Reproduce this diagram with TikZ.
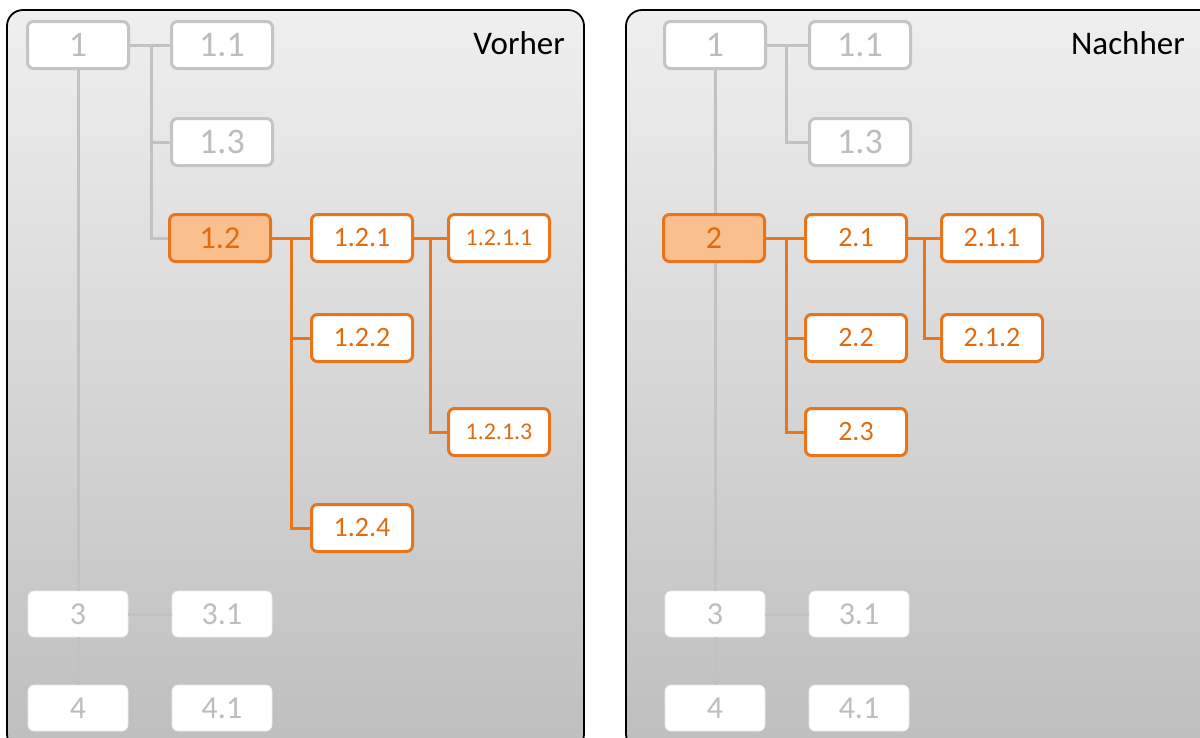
\documentclass[tikz,border=0pt]{standalone}
\usepackage{fontspec}
\setmainfont{Carlito}
\definecolor{ora}{HTML}{E8741C}
\definecolor{oratext}{HTML}{E26B10}
\definecolor{orafill}{HTML}{F9BF8D}
\definecolor{gbord}{HTML}{C4C4C4}
\definecolor{gtext}{HTML}{BDBDBD}
\definecolor{gline}{HTML}{C2C2C2}
\definecolor{bgtop}{HTML}{EFEFEF}
\definecolor{bgbot}{HTML}{BEBEBE}
\tikzset{
  panel/.style={rounded corners=16pt, line width=1.8pt, draw=black, top color=bgtop, bottom color=bgbot},
  boxbase/.style={rounded corners=6pt, minimum width=101pt, minimum height=47pt, inner sep=0pt, line width=3pt},
  gbox/.style={boxbase, draw=gbord, fill=white, text=gtext, font=\fontsize{36}{36}\selectfont},
  obox/.style={boxbase, draw=ora, fill=white, text=oratext, font=\fontsize{28}{28}\selectfont},
  ofbox/.style={boxbase, draw=ora, fill=orafill, text=oratext, font=\fontsize{32}{32}\selectfont},
  wbox/.style={rounded corners=6pt, minimum width=100pt, minimum height=46pt, inner sep=0pt, fill=white, draw=white!92!black, line width=0.6pt, text=gtext, font=\fontsize{32}{32}\selectfont},
  gl/.style={draw=gline, line width=3pt},
  ol/.style={draw=ora, line width=3pt},
  small/.style={font=\fontsize{24}{24}\selectfont},
  title/.style={anchor=east, font=\fontsize{33}{33}\selectfont, text=black, inner sep=0pt}
}
\begin{document}
\begin{tikzpicture}[x=1pt,y=-1pt]
\useasboundingbox (0,0) rectangle (1200,737);
\clip (0,0) rectangle (1200,737);
\path[panel] (7,10) rectangle (584,750);
\path[panel] (626,10) rectangle (1215,750);

% ---------- Left panel (Vorher) ----------
\node[title] (tv) at (565,43) {Vorher};
\node[gbox] (L1) at (78,45) {1};
\node[gbox] (L11) at (222,45) {1.1};
\node[gbox] (L13) at (222,142) {1.3};
\node[wbox] (L3) at (78,614) {3};
\node[wbox] (L31) at (222,614) {3.1};
\node[wbox] (L4) at (78,708) {4};
\node[wbox] (L41) at (222,708) {4.1};
\draw[gl] (L1.east) -- (L11.west);
\draw[gl] (L1.east) ++(21,0) |- (L13.west);
\draw[gl] (L1.south) -- (L3.north);
\draw[gl] (L3.east) -- (L31.west);
\draw[gl] (L3.south) -- (L4.north);
\node[ofbox] (L12) at (220,238) {1.2};
\draw[gl] (L1.east) ++(21,0) |- (L12.west);
\node[obox] (L121) at (362,238) {1.2.1};
\node[obox] (L122) at (362,338) {1.2.2};
\node[obox] (L124) at (362,528) {1.2.4};
\node[obox,small] (L1211) at (499,238) {1.2.1.1};
\node[obox,small] (L1213) at (499,432) {1.2.1.3};
\draw[ol] (L12.east) -- (L121.west);
\draw[ol] (L12.east) ++(19,0) |- (L122.west);
\draw[ol] (L12.east) ++(19,0) |- (L124.west);
\draw[ol] (L121.east) -- (L1211.west);
\draw[ol] (L121.east) ++(16,0) |- (L1213.west);

% ---------- Right panel (Nachher) ----------
\node[title] (tn) at (1185,43) {Nachher};
\node[gbox] (R1) at (715,45) {1};
\node[gbox] (R11) at (860,45) {1.1};
\node[gbox] (R13) at (860,142) {1.3};
\node[wbox] (R3) at (715,614) {3};
\node[wbox] (R31) at (859,614) {3.1};
\node[wbox] (R4) at (715,708) {4};
\node[wbox] (R41) at (859,708) {4.1};
\draw[gl] (R1.east) -- (R11.west);
\draw[gl] (R1.east) ++(19,0) |- (R13.west);
\draw[gl] (R1.south) -- (R3.north);
\draw[gl] (R3.east) -- (R31.west);
\draw[gl] (R3.south) -- (R4.north);
\node[ofbox] (R2) at (714,238) {2};
\node[obox] (R21) at (856,238) {2.1};
\node[obox] (R22) at (856,338) {2.2};
\node[obox] (R23) at (856,432) {2.3};
\node[obox] (R211) at (992,238) {2.1.1};
\node[obox] (R212) at (992,338) {2.1.2};
\draw[ol] (R2.east) -- (R21.west);
\draw[ol] (R2.east) ++(20,0) |- (R22.west);
\draw[ol] (R2.east) ++(20,0) |- (R23.west);
\draw[ol] (R21.east) -- (R211.west);
\draw[ol] (R21.east) ++(16,0) |- (R212.west);
\end{tikzpicture}
\end{document}
